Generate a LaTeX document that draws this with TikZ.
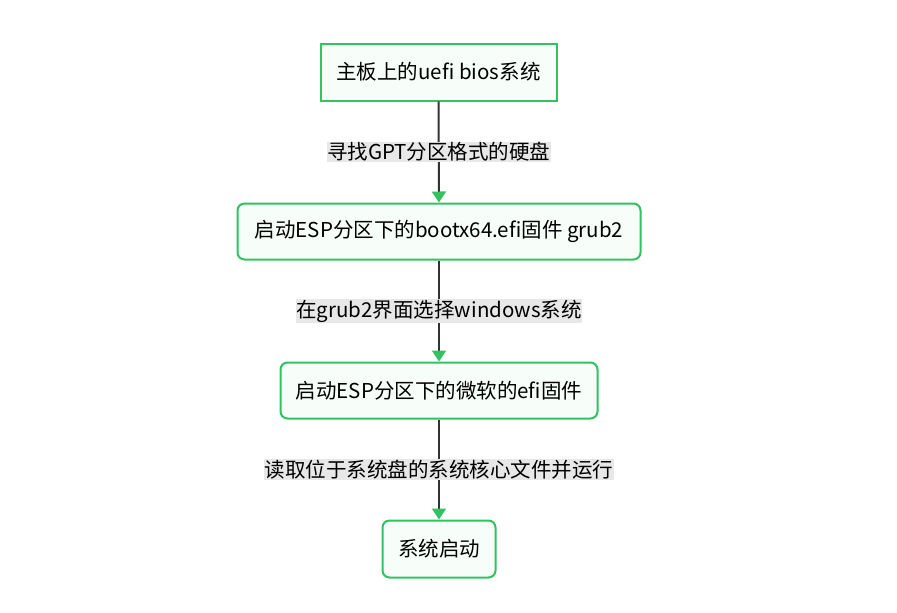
\documentclass[tikz,border=0pt]{standalone}
\usepackage{fontspec}
\setmainfont{Noto Sans CJK SC}
\usetikzlibrary{arrows.meta}
\definecolor{boxgreen}{HTML}{33C162}
\definecolor{boxfill}{HTML}{F7FDF9}
\definecolor{linegray}{HTML}{333333}
\definecolor{labelgray}{HTML}{E8E8E8}
\begin{document}
\begin{tikzpicture}[x=1pt,y=-1pt,
  main node/.style={draw=boxgreen,fill=boxfill,line width=2pt,font=\fontsize{20.5}{24}\selectfont,inner sep=0pt},
  flow/.style={draw=linegray,line width=2pt,-{Triangle[color=boxgreen,length=11pt,width=14pt]}},
  step label/.style={fill=labelgray,font=\fontsize{20.5}{24}\selectfont,inner sep=0.5pt}]
  \useasboundingbox (0,0) rectangle (897,613);
  \node[main node,minimum width=236pt,minimum height=57pt] (uefi) at (438.5,72) {主板上的uefi bios系统};
  \node[main node,rounded corners=7pt,minimum width=403pt,minimum height=56pt] (grub) at (439,231.5) {启动ESP分区下的bootx64.efi固件 grub2};
  \node[main node,rounded corners=7pt,minimum width=317pt,minimum height=56pt] (ms) at (439,390.5) {启动ESP分区下的微软的efi固件};
  \node[main node,rounded corners=7pt,minimum width=113pt,minimum height=57pt] (sys) at (439,549) {系统启动};

  \path[flow]
   (uefi) edge node[step label]{寻找GPT分区格式的硬盘}(grub)
   (grub) edge node[step label]{在grub2界面选择windows系统}(ms)
   (ms) edge node[step label]{读取位于系统盘的系统核心文件并运行}(sys);
\end{tikzpicture}
\end{document}
